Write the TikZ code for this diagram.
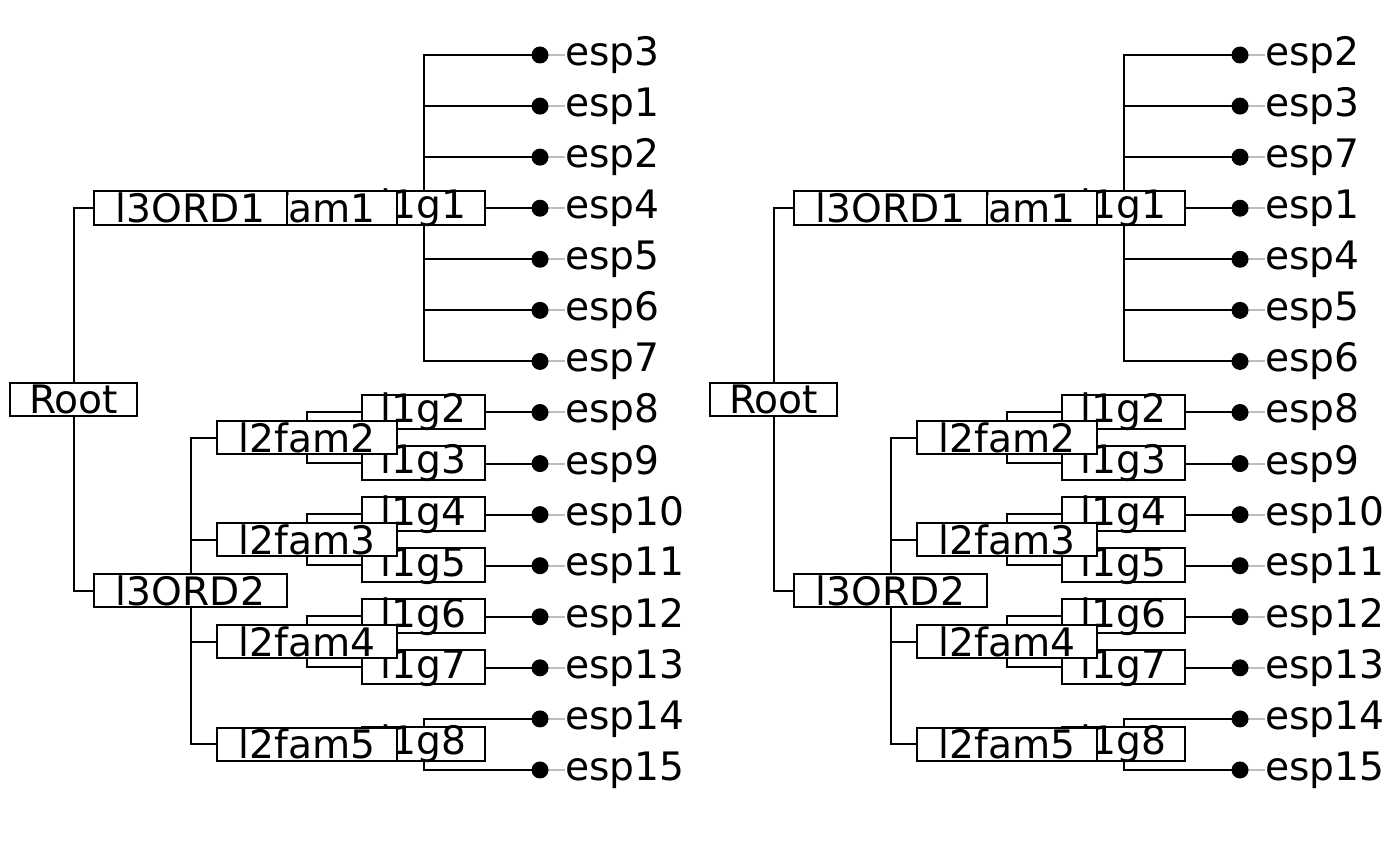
\documentclass[tikz,border=0pt]{standalone}
\usepackage{fontspec}
\setmainfont{DejaVu Sans}
\newcommand\labfont{\fontsize{19.6}{23}\selectfont}
\definecolor{tipgray}{RGB}{190,190,190}
\tikzset{
 branch/.style={line width=1pt, black},
 tipline/.style={line width=1pt, color=tipgray},
 lab/.style={draw, fill=white, line width=1pt, inner sep=0pt, minimum height=16.5pt},
 labtext/.style={inner sep=0pt, font=\labfont},
 rootbox/.style={lab, minimum width=63.5pt},
 ordbox/.style={lab, minimum width=96.5pt},
 fambox/.style={lab, minimum width=90pt},
 genbox/.style={lab, minimum width=61.5pt, minimum height=17pt},
 tiplab/.style={anchor=west, inner sep=0pt, font=\labfont}
}
\newcommand\drawphylo[3]{%
\begin{scope}[xshift=#2]
 \coordinate (#1root) at (73.5,399.3);
 \coordinate (#1o1) at (190.5,208);
 \coordinate (#1o2) at (190.5,590.6);
 \coordinate (#1f1) at (307,208);
 \coordinate (#1f2) at (307,437.6);
 \coordinate (#1f3) at (307,539.7);
 \coordinate (#1f4) at (307,641.9);
 \coordinate (#1f5) at (307,744.0);
 \coordinate (#1g1) at (423.5,208);
 \coordinate (#1g2) at (423.5,412.1);
 \coordinate (#1g3) at (423.5,463.1);
 \coordinate (#1g4) at (423.5,514.2);
 \coordinate (#1g5) at (423.5,565.3);
 \coordinate (#1g6) at (423.5,616.3);
 \coordinate (#1g7) at (423.5,667.4);
 \coordinate (#1g8) at (423.5,744.0);
 \foreach \lbl [count=\i] in {#3} {
   \pgfmathsetmacro\yy{55+(\i-1)*51.07}
   \coordinate (#1t\i) at (540,\yy);
   \node[tiplab] (#1lab\i) at (565,\yy) {\lbl};
 }
 \draw[branch] (#1root) |- (#1o1) (#1root) |- (#1o2)
   (#1o1) -- (#1g1)
   (#1o2) |- (#1f2) (#1o2) |- (#1f3) (#1o2) |- (#1f4) (#1o2) |- (#1f5)
   (#1f2) |- (#1g2) (#1f2) |- (#1g3) (#1f3) |- (#1g4) (#1f3) |- (#1g5)
   (#1f4) |- (#1g6) (#1f4) |- (#1g7) (#1f5) -- (#1g8);
 \foreach \i/\p in {1/g1,2/g1,3/g1,4/g1,5/g1,6/g1,7/g1,8/g2,9/g3,10/g4,11/g5,12/g6,13/g7,14/g8,15/g8}
   \draw[branch] (#1\p) |- (#1t\i);
 \foreach \i in {1,...,15} {
   \draw[tipline] (#1t\i) -- (#1lab\i.west);
   \fill (#1t\i) circle[radius=4.25pt];
 }
 \foreach \k in {1,...,8} {
   \node[genbox] (#1G\k) at (#1g\k) {};
   \node[labtext] (#1Gt\k) at (#1g\k) {l1g\k};
 }
 \foreach \k in {1,...,5} {
   \node[fambox] (#1F\k) at (#1f\k) {};
   \node[labtext] (#1Ft\k) at (#1f\k) {l2fam\k};
 }
 \foreach \k in {1,2} {
   \node[ordbox] (#1O\k) at (#1o\k) {};
   \node[labtext] (#1Ot\k) at (#1o\k) {l3ORD\k};
 }
 \node[rootbox] (#1R) at (#1root) {};
 \node[labtext] (#1Rt) at (#1root) {Root};
\end{scope}}
\begin{document}
\begin{tikzpicture}[x=0.5pt,y=-0.5pt]
\useasboundingbox (0,0) rectangle (1400,866);
\drawphylo{A}{0pt}{esp3,esp1,esp2,esp4,esp5,esp6,esp7,esp8,esp9,esp10,esp11,esp12,esp13,esp14,esp15}
\drawphylo{B}{350pt}{esp2,esp3,esp7,esp1,esp4,esp5,esp6,esp8,esp9,esp10,esp11,esp12,esp13,esp14,esp15}
\end{tikzpicture}
\end{document}
